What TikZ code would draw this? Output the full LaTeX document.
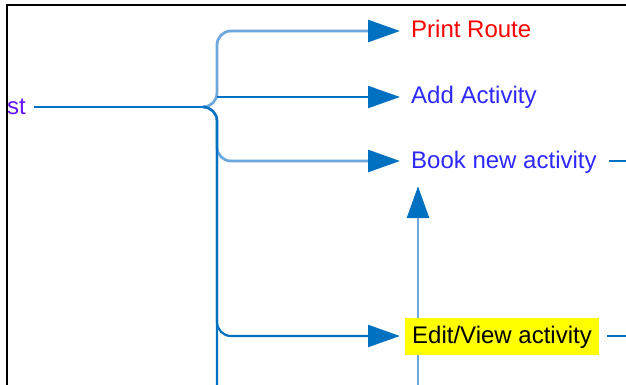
\documentclass[tikz,border=0pt]{standalone}
\usepackage{fontspec}
\setmainfont{Liberation Sans}
\usetikzlibrary{arrows.meta}
\definecolor{lineblue}{RGB}{0,112,192}
\definecolor{lightblue}{RGB}{110,168,220}
\definecolor{txtblue}{RGB}{45,40,255}
\definecolor{stpurple}{RGB}{100,20,255}
\definecolor{hiyellow}{RGB}{255,255,0}
\begin{document}
\begin{tikzpicture}[x=1pt,y=-1pt,
  lbl/.style={font=\fontsize{24}{26}\selectfont, inner sep=0pt, text height=18pt, text depth=4pt, anchor=base west},
  conn/.style={draw=lineblue, line width=2.2pt, rounded corners=14pt},
  lconn/.style={draw=lightblue, line width=2.8pt, rounded corners=14pt},
  arr/.style={-{Triangle[length=32pt,width=22pt,color=lineblue]}},
  frame/.style={draw=black, line width=2pt}]
\useasboundingbox (0,0) rectangle (626,385);

% labels
\node[lbl, text=stpurple, anchor=base east] (st) at (26,114) {st};
\node[lbl, text=red] (pr) at (411,38) {Print Route};
\node[lbl, text=txtblue] (aa) at (411,104) {Add Activity};
\node[lbl, text=txtblue] (bn) at (411,168) {Book new activity};

\coordinate (j) at (205,107);
\coordinate (trunk) at (217,107);
\coordinate (bot) at (217,385);
\coordinate (vb) at (418,385);
\coordinate (redge) at (626,0);

% vertical up arrow (behind the highlight)
\draw[lconn, arr, shorten >=14pt] (vb) -- (vb |- bn.south);

% highlighted node
\node[lbl, text=black, fill=hiyellow, inner xsep=7pt, inner ysep=7.5pt] (ev) at (405,343) {Edit/View activity};

% main connectors
\draw[conn, shorten <=8pt] (st.east) -- (j);
\draw[conn] (j) -- (trunk) -- (bot);
\draw[lconn, arr, shorten >=11pt] (j) -- (trunk) |- (pr.west);
\draw[conn, arr, shorten >=11pt] (trunk |- aa.west) -- (aa.west);
\draw[lconn, arr, shorten >=11pt] (j) -- (trunk) |- (bn.west);
\draw[conn, arr, shorten >=5pt] (j) -- (trunk) |- (ev.west);

% right stubs
\draw[conn, shorten <=12pt] (bn.east) -- (bn.east -| redge);
\draw[conn, shorten <=8pt] (ev.east) -- (ev.east -| redge);

% frame
\draw[frame] (7,385) -- (7,5) -- (626,5);
\end{tikzpicture}
\end{document}
